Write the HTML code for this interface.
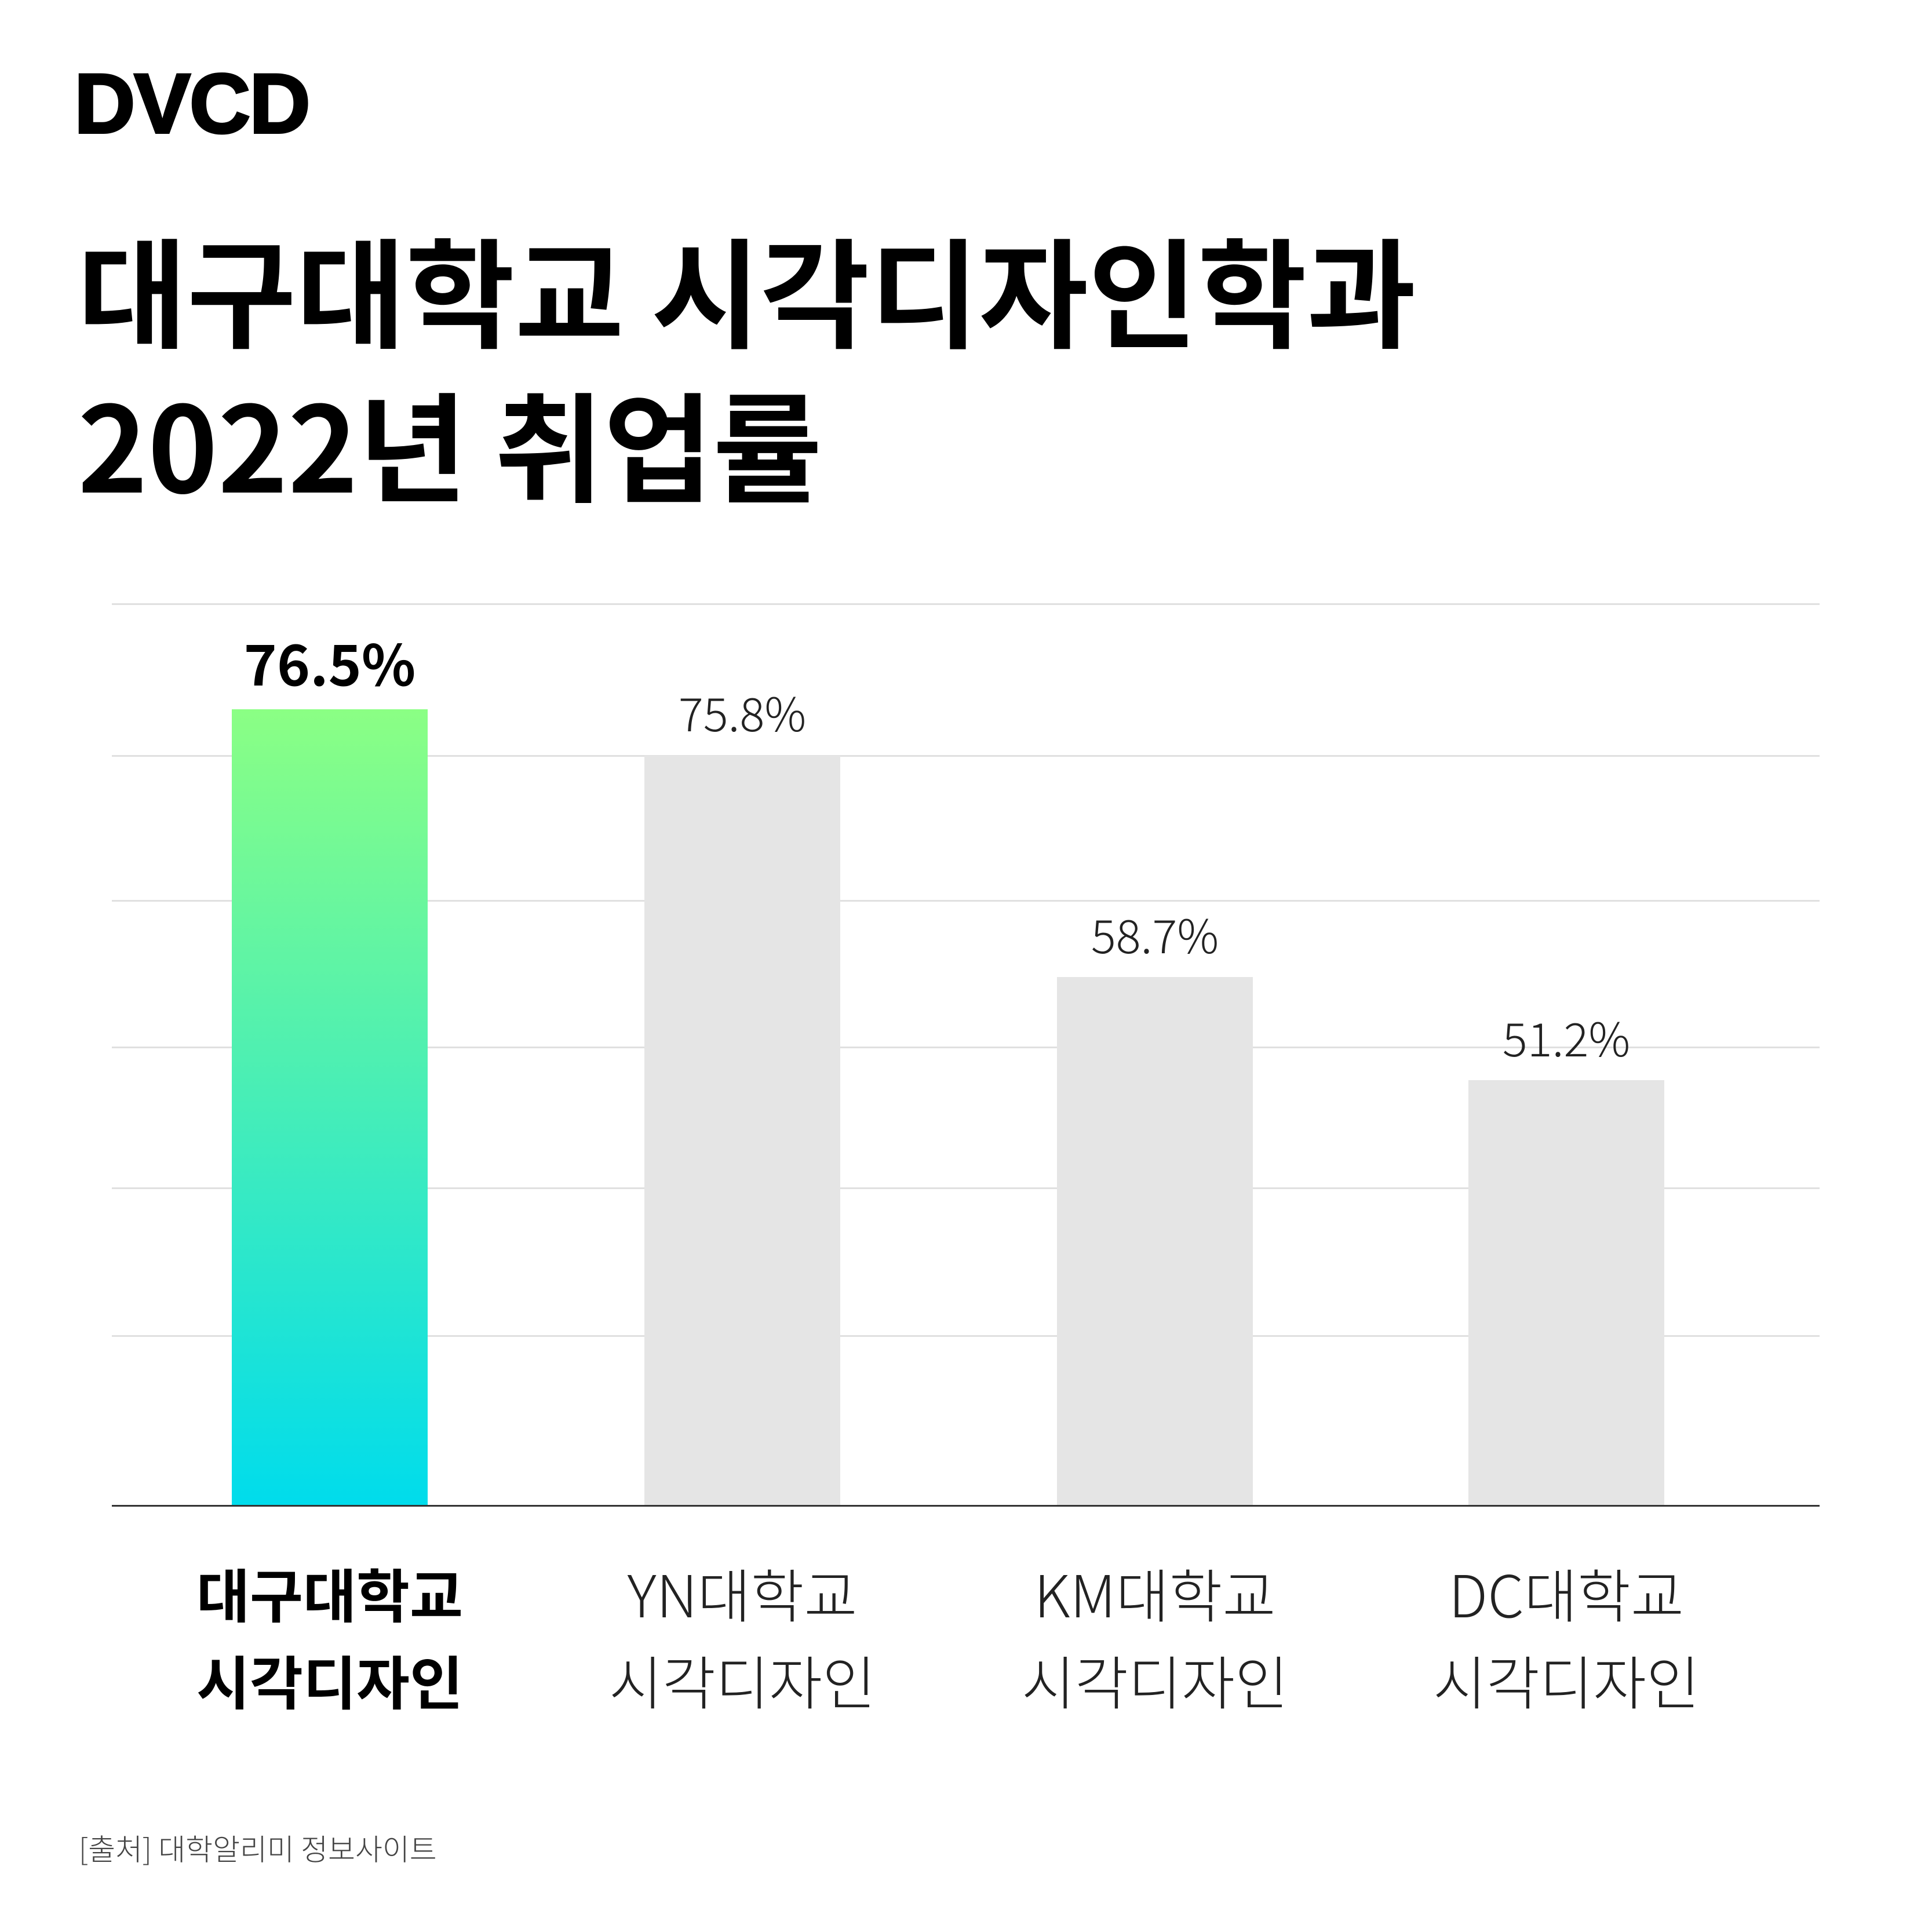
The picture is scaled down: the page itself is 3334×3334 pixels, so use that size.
<!DOCTYPE html>
<html><head><meta charset="utf-8"><style>
*{margin:0;padding:0;box-sizing:border-box}
body{width:3334px;height:3334px;background:#fff;position:relative;overflow:hidden;font-family:"Noto Sans CJK KR","Liberation Sans",sans-serif;color:#000}
.a{position:absolute;white-space:nowrap}
.c{transform:translateX(-50%);text-align:center}
.g{position:absolute;left:193px;width:2947px;height:3px;background:#e0e0e0}
.bar{position:absolute;width:338px;background:#e5e5e5;bottom:736px}
.v{font-weight:300;font-size:80px;line-height:80px;color:#222}
.lab{font-size:100px;line-height:150px;font-weight:300;color:#222}
</style></head><body>
<div class="a" style="left:128px;top:94px;font-family:'Liberation Sans',sans-serif;font-weight:900;font-size:146px;line-height:170px;letter-spacing:-2px;-webkit-text-stroke:4px #000">DVCD</div>
<div class="a" style="left:134px;top:376px;font-weight:700;font-size:205px;line-height:240px;letter-spacing:0px">대구대학교 시각디자인학과</div>
<div class="a" style="left:134px;top:642px;font-weight:700;font-size:205px;line-height:240px;letter-spacing:0px">2022년 취업률</div>

<div class="g" style="top:1041px"></div>
<div class="g" style="top:1303px"></div>
<div class="g" style="top:1553px"></div>
<div class="g" style="top:1806px"></div>
<div class="g" style="top:2049px"></div>
<div class="g" style="top:2304px"></div>

<div class="bar" style="left:400px;top:1224px;background:linear-gradient(#8bff84,#00dcec)"></div>
<div class="bar" style="left:1112px;top:1304px"></div>
<div class="bar" style="left:1824px;top:1686px"></div>
<div class="bar" style="left:2534px;top:1864px"></div>
<div class="a" style="left:193px;top:2597px;width:2947px;height:3px;background:#333"></div>

<div class="a c" style="left:569px;top:1086px;font-weight:700;font-size:97px;line-height:110px">76.5%</div>
<div class="a c v" style="left:1281px;top:1188px">75.8%</div>
<div class="a c v" style="left:1993px;top:1571px">58.7%</div>
<div class="a c v" style="left:2703px;top:1749px">51.2%</div>

<div class="a c lab" style="left:569px;top:2673px;font-weight:700;color:#000">대구대학교<br>시각디자인</div>
<div class="a c lab" style="left:1281px;top:2673px">YN대학교<br>시각디자인</div>
<div class="a c lab" style="left:1993px;top:2673px">KM대학교<br>시각디자인</div>
<div class="a c lab" style="left:2703px;top:2673px">DC대학교<br>시각디자인</div>

<div class="a" style="left:136px;top:3158px;font-size:51px;line-height:60px;font-weight:300;color:#444">[출처] 대학알리미 정보사이트</div>
</body></html>
